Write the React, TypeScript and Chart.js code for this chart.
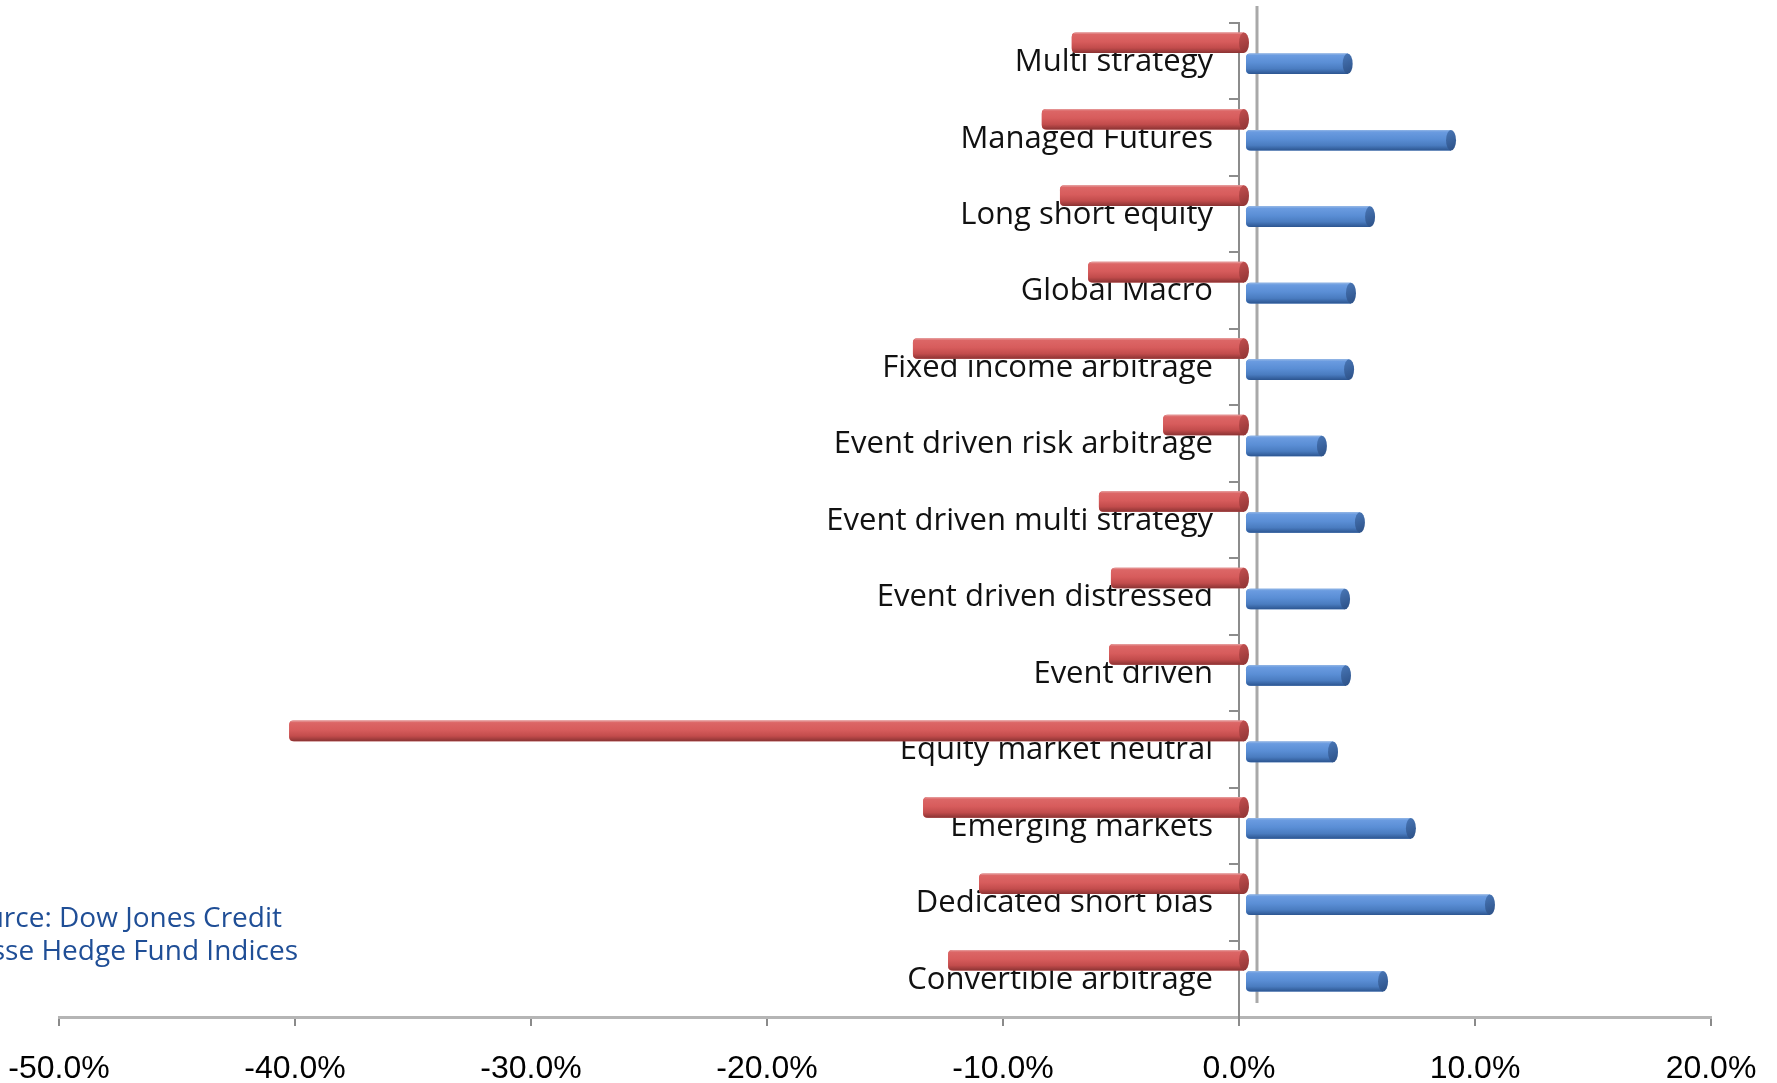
import React, { useEffect, useRef } from 'react';
import { Chart, registerables } from 'chart.js';

Chart.register(...registerables);

const categories = [
  'Multi strategy',
  'Managed Futures',
  'Long short equity',
  'Global Macro',
  'Fixed income arbitrage',
  'Event driven risk arbitrage',
  'Event driven multi strategy',
  'Event driven distressed',
  'Event driven',
  'Equity market neutral',
  'Emerging markets',
  'Dedicated short bias',
  'Convertible arbitrage',
];
const worstValues = [-7.34, -8.61, -7.84, -6.65, -14.07, -3.47, -6.19, -5.68, -5.76, -40.5, -13.64, -11.27, -12.58];
const bestValues = [4.35, 8.73, 5.3, 4.49, 4.41, 3.26, 4.87, 4.24, 4.28, 3.73, 7.03, 10.38, 5.85];
const xTicks = [-50, -40, -30, -20, -10, 0, 10, 20];
const sourceLines = ['Source: Dow Jones Credit', 'Suisse Hedge Fund Indices'];

const RED = {
  base: '#d65b5b',
  stops: [
    [0, '#e7a3a3'],
    [0.1, '#dc6666'],
    [0.45, '#d75c5c'],
    [0.75, '#c24c4c'],
    [1, '#8a3333'],
  ],
  cap: ['#c45050', '#8e3434'],
};
const BLUE = {
  base: '#5a8ed5',
  stops: [
    [0, '#94b7e6'],
    [0.1, '#6a9be0'],
    [0.45, '#5a8ed5'],
    [0.75, '#4a7cc0'],
    [1, '#2c5590'],
  ],
  cap: ['#4a78b8', '#2b4f85'],
};
const PALETTES = [RED, BLUE];

function hasFont(name: string): boolean {
  const c = document.createElement('canvas').getContext('2d');
  if (!c) return false;
  const sample = '-50.0% mmmwwwiiil';
  c.font = '40px monospace';
  const a = c.measureText(sample).width;
  c.font = `40px "${name}", monospace`;
  const b = c.measureText(sample).width;
  return Math.abs(a - b) > 0.5;
}

function drawCylinder(ctx: CanvasRenderingContext2D, L: number, R: number, cy: number, h: number, pal: any) {
  const top = cy - h / 2;
  const bot = cy + h / 2;
  const rl = Math.min(5, Math.max(0, (R - L) / 2));
  const g = ctx.createLinearGradient(0, top, 0, bot);
  pal.stops.forEach((s: any) => g.addColorStop(s[0], s[1]));
  ctx.beginPath();
  ctx.moveTo(R, top);
  ctx.lineTo(L + rl, top);
  ctx.quadraticCurveTo(L, top, L, top + rl);
  ctx.lineTo(L, bot - rl);
  ctx.quadraticCurveTo(L, bot, L + rl, bot);
  ctx.lineTo(R, bot);
  ctx.closePath();
  ctx.fillStyle = g;
  ctx.fill();
  const rx = 5;
  const g2 = ctx.createLinearGradient(R - rx, top, R + rx, bot);
  g2.addColorStop(0, pal.cap[0]);
  g2.addColorStop(1, pal.cap[1]);
  ctx.beginPath();
  ctx.ellipse(R, cy, rx, h / 2, 0, 0, Math.PI * 2);
  ctx.fillStyle = g2;
  ctx.fill();
}

const chartDecor = {
  id: 'chartDecor',
  beforeDatasetsDraw(chart: any) {
    const ctx = chart.ctx as CanvasRenderingContext2D;
    const xs = chart.scales.x;
    const ys = chart.scales.y;
    const x0 = xs.getPixelForValue(0);
    ctx.save();
    ctx.strokeStyle = '#a9a9a9';
    ctx.lineWidth = 3;
    ctx.beginPath();
    ctx.moveTo(x0 + 18, 6);
    ctx.lineTo(x0 + 18, chart.chartArea.bottom - 14);
    ctx.stroke();
    // category axis extends slightly below the floor line
    ctx.strokeStyle = '#8c8c8c';
    ctx.lineWidth = 2;
    ctx.beginPath();
    ctx.moveTo(x0, chart.chartArea.bottom);
    ctx.lineTo(x0, chart.chartArea.bottom + 9);
    ctx.stroke();
    // category labels
    ctx.fillStyle = '#111';
    ctx.font = '31px "Open Sans", "DejaVu Sans", sans-serif';
    ctx.textAlign = 'right';
    ctx.textBaseline = 'middle';
    categories.forEach((c, i) => {
      ctx.fillText(c, x0 - 26, ys.getPixelForValue(i) + 1);
    });
    ctx.restore();
    ctx.save();
    ctx.translate(6, -8);
  },
  afterDatasetsDraw(chart: any) {
    const ctx = chart.ctx as CanvasRenderingContext2D;
    chart.data.datasets.forEach((ds: any, di: number) => {
      const meta = chart.getDatasetMeta(di);
      const pal = PALETTES[di];
      meta.data.forEach((el: any) => {
        const p = el.getProps(['x', 'y', 'base', 'height'], true);
        drawCylinder(ctx, Math.min(p.x, p.base), Math.max(p.x, p.base), p.y, p.height, pal);
      });
    });
    ctx.restore();
  },
  afterDraw(chart: any) {
    const ctx = chart.ctx as CanvasRenderingContext2D;
    ctx.save();
    ctx.fillStyle = '#1f4e96';
    ctx.font = '28px "Open Sans", "DejaVu Sans", sans-serif';
    ctx.textAlign = 'right';
    ctx.textBaseline = 'alphabetic';
    ctx.fillText(sourceLines[0], 282, 927);
    ctx.fillText(sourceLines[1], 298, 960);
    ctx.restore();
  },
};

export default function App() {
  const ref = useRef<HTMLCanvasElement>(null);
  useEffect(() => {
    if (!ref.current) return;
    const narrow = hasFont('Liberation Sans Narrow');
    const tickFont = narrow
      ? { family: '"Liberation Sans Narrow", "Liberation Sans", Arial, sans-serif', size: 38 }
      : { family: '"Liberation Sans", Arial, sans-serif', size: 32 };
    const chart = new Chart(ref.current, {
      type: 'bar',
      data: {
        labels: categories,
        datasets: [
          {
            label: 'Worst return',
            data: worstValues,
            backgroundColor: RED.base,
            borderWidth: 0,
            borderSkipped: false,
            borderRadius: { topLeft: 4, bottomLeft: 4, topRight: 0, bottomRight: 0 },
            clip: false,
          } as any,
          {
            label: 'Best return',
            data: bestValues,
            backgroundColor: BLUE.base,
            borderWidth: 0,
            borderSkipped: false,
            borderRadius: { topLeft: 4, bottomLeft: 4, topRight: 0, bottomRight: 0 },
            clip: false,
          } as any,
        ],
      },
      options: {
        indexAxis: 'y',
        responsive: false,
        animation: false,
        events: [],
        layout: { padding: { left: 59, right: 66, top: 23, bottom: 0 } },
        datasets: { bar: { categoryPercentage: 0.55, barPercentage: 0.98 } },
        plugins: {
          legend: { display: false },
          tooltip: { enabled: false },
          title: { display: false },
        },
        scales: {
          x: {
            type: 'linear',
            position: 'bottom',
            min: -50,
            max: 20,
            afterBuildTicks: (s: any) => {
              s.ticks = xTicks.map((v) => ({ value: v }));
            },
            afterFit: (s: any) => {
              s.height = 66;
              s.paddingLeft = 0;
              s.paddingRight = 0;
            },
            grid: { drawOnChartArea: false, drawTicks: true, tickLength: 9, color: '#8a8a8a', lineWidth: 2 },
            border: { display: true, color: '#b5b5b5', width: 3 },
            ticks: {
              autoSkip: false,
              maxRotation: 0,
              padding: narrow ? 20 : 24,
              color: '#000',
              font: tickFont,
              callback: (v: any) => Number(v).toFixed(1) + '%',
            },
          },
          y: {
            type: 'category',
            position: { x: 0 } as any,
            offset: true,
            grid: { offset: true, drawOnChartArea: false, drawTicks: true, tickLength: 9, color: '#8c8c8c', lineWidth: 2 },
            border: { display: true, color: '#8c8c8c', width: 2 },
            ticks: { display: false },
          },
        },
      } as any,
      plugins: [chartDecor],
    });
    return () => chart.destroy();
  }, []);
  return (
    <div style={{ position: 'absolute', left: 0, top: 0, width: 1777, height: 1083, background: '#fff', overflow: 'hidden' }}>
      <canvas ref={ref} width={1777} height={1083} style={{ display: 'block' }} />
    </div>
  );
}
